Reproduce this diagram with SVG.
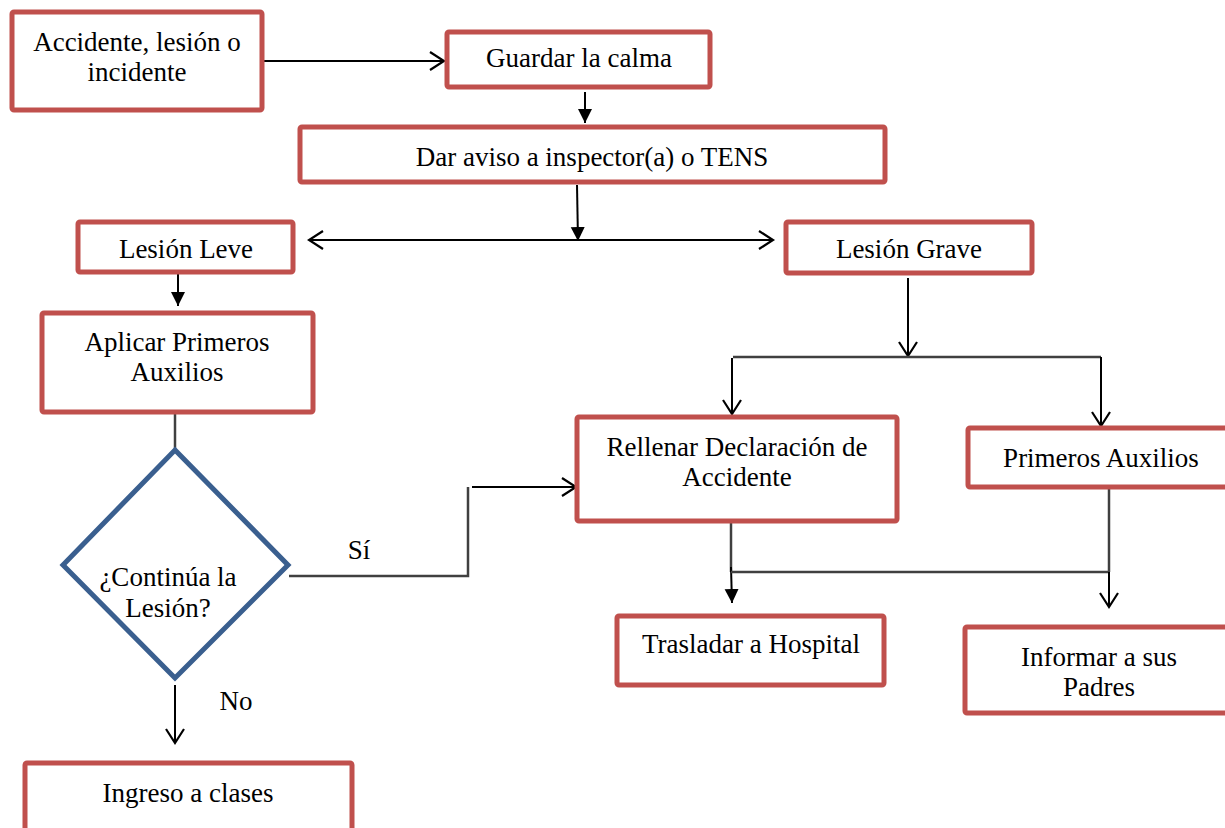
<svg xmlns="http://www.w3.org/2000/svg" width="1225" height="828" viewBox="0 0 1225 828">
<style>
.box{fill:#fff;stroke:#C0504D;stroke-width:5}
.dia{fill:#fff;stroke:#3A5F8F;stroke-width:5;stroke-linejoin:miter}
.t{font-family:'Liberation Serif','Times New Roman',serif;font-size:27px;fill:#000;text-anchor:middle}
.c{fill:none;stroke:#000;stroke-width:2}
.g{fill:none;stroke:#404040;stroke-width:2.5}
</style>
<defs>
<marker id="open" markerWidth="20" markerHeight="22" refX="15" refY="10" orient="auto" markerUnits="userSpaceOnUse">
<path d="M1,1 L15,10 L1,19" fill="none" stroke="#000" stroke-width="2.2"/>
</marker>
<marker id="openS" markerWidth="20" markerHeight="22" refX="2" refY="10" orient="auto" markerUnits="userSpaceOnUse">
<path d="M16,1 L2,10 L16,19" fill="none" stroke="#000" stroke-width="2.2"/>
</marker>
<marker id="fill" markerWidth="16" markerHeight="16" refX="14" refY="7" orient="auto" markerUnits="userSpaceOnUse">
<path d="M0,0 L14,7 L0,14 Z" fill="#000"/>
</marker>
</defs>
<g id="connectors">
<line class="c" x1="262" y1="61" x2="444" y2="61" marker-end="url(#open)"/>
<line class="c" x1="585" y1="92" x2="585" y2="123" marker-end="url(#fill)"/>
<line class="c" x1="577" y1="185" x2="578" y2="241" marker-end="url(#fill)"/>
<line class="c" x1="309" y1="240" x2="773" y2="240" marker-start="url(#openS)" marker-end="url(#open)"/>
<line class="c" x1="178" y1="273" x2="178" y2="306" marker-end="url(#fill)"/>
<line class="g" x1="175" y1="412" x2="175" y2="462"/>
<polyline class="g" points="289,576 468,576 468,487"/>
<line class="c" x1="472" y1="487" x2="576" y2="487" marker-end="url(#open)"/>
<line class="c" x1="175" y1="685" x2="175" y2="743" marker-end="url(#open)"/>
<line class="c" x1="908" y1="278" x2="908" y2="356" marker-end="url(#open)"/>
<polyline class="g" points="733,357 1101,357"/>
<line class="c" x1="732" y1="358" x2="732" y2="414" marker-end="url(#open)"/>
<line class="c" x1="1101" y1="357" x2="1101" y2="426" marker-end="url(#open)"/>
<line class="g" x1="731" y1="522" x2="731" y2="572"/>
<line class="c" x1="731" y1="567" x2="732" y2="603" marker-end="url(#fill)"/>
<line class="g" x1="731" y1="572" x2="1109" y2="572"/>
<line class="g" x1="1109" y1="488" x2="1109" y2="572"/>
<line class="c" x1="1109" y1="572" x2="1109" y2="607" marker-end="url(#open)"/>
</g>
<g id="n1"><rect class="box" x="12" y="12" width="250" height="98" rx="2"/><text class="t" x="137" y="51">Accidente, lesión o</text><text class="t" x="137" y="81">incidente</text></g>
<g id="n2"><rect class="box" x="447" y="32" width="263" height="55" rx="2"/><text class="t" x="579" y="67">Guardar la calma</text></g>
<g id="n3"><rect class="box" x="300" y="127" width="585" height="55" rx="2"/><text class="t" x="592" y="166">Dar aviso a inspector(a) o TENS</text></g>
<g id="n4"><rect class="box" x="78" y="222" width="215" height="50" rx="2"/><text class="t" x="186" y="258">Lesión Leve</text></g>
<g id="n5"><rect class="box" x="786" y="222" width="246" height="51" rx="2"/><text class="t" x="909" y="258">Lesión Grave</text></g>
<g id="n6"><rect class="box" x="42" y="313" width="271" height="99" rx="2"/><text class="t" x="177" y="351">Aplicar Primeros</text><text class="t" x="177" y="381">Auxilios</text></g>
<g id="n7"><polygon class="dia" points="175,450 288,565 175,678 63,565"/><text class="t" x="168" y="586">¿Continúa la</text><text class="t" x="168" y="617">Lesión?</text></g>
<g id="n8"><rect class="box" x="25" y="763" width="327" height="80" rx="2"/><text class="t" x="188" y="802">Ingreso a clases</text></g>
<g id="n9"><rect class="box" x="577" y="417" width="320" height="104" rx="2"/><text class="t" x="737" y="456">Rellenar Declaración de</text><text class="t" x="737" y="486">Accidente</text></g>
<g id="n10"><rect class="box" x="968" y="428" width="262" height="59" rx="2"/><text class="t" x="1101" y="467">Primeros Auxilios</text></g>
<g id="n11"><rect class="box" x="617" y="616" width="267" height="69" rx="2"/><text class="t" x="751" y="653">Trasladar a Hospital</text></g>
<g id="n12"><rect class="box" x="965" y="627" width="265" height="86" rx="2"/><text class="t" x="1099" y="666">Informar a sus</text><text class="t" x="1099" y="696">Padres</text></g>
<g id="labels"><text class="t" x="359" y="559">Sí</text><text class="t" x="236" y="710">No</text></g>
</svg>
